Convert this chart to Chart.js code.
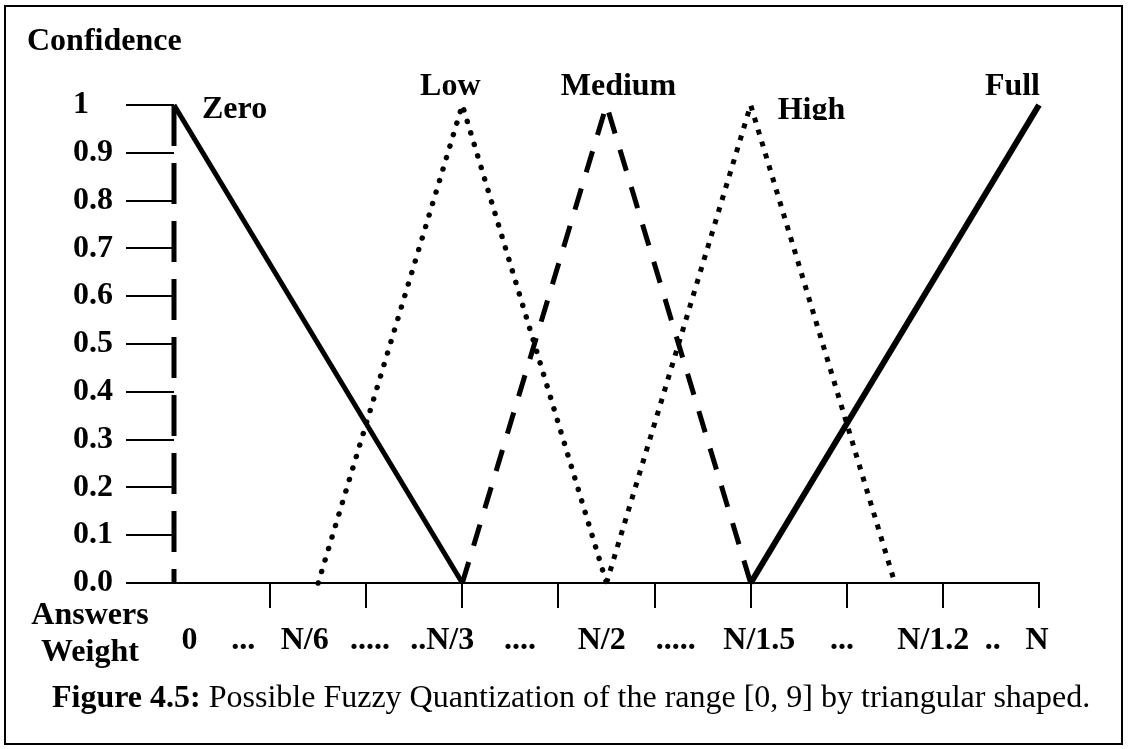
<!DOCTYPE html>
<html>
<head>
<meta charset="utf-8">
<title>Fuzzy Quantization</title>
<script src="https://cdn.jsdelivr.net/npm/chart.js@4.4.1/dist/chart.umd.min.js"></script>
<style>
  html, body { margin: 0; padding: 0; background: #fff; }
  #wrap { position: relative; width: 1128px; height: 749px; }
</style>
</head>
<body>
<div id="wrap"><canvas id="fuzzyChart"></canvas></div>
<script>
// axis ticks
const xTickValues = [0, 1, 2, 3, 4, 5, 6, 7, 8, 9];
const yTickValues = [0, 0.1, 0.2, 0.3, 0.4, 0.5, 0.6, 0.7, 0.8, 0.9, 1];
const yTickLabels = ['0.0', '0.1', '0.2', '0.3', '0.4', '0.5', '0.6', '0.7', '0.8', '0.9', '1'];

// the "Answers Weight" row under the axis (text + where it sits on the axis)
const xLabelText = ['0', '...', 'N/6', '.....', '..N/3', '....', 'N/2', '.....', 'N/1.5', '...', 'N/1.2', '..', 'N'];
const xLabelAt = [0.16, 0.72, 1.36, 2.04, 2.79, 3.6, 4.45, 5.22, 6.09, 6.95, 7.9, 8.52, 8.98];

// membership functions
const zeroX = [0, 3];
const zeroY = [1, 0];
const zeroEdgeX = [0, 0];
const zeroEdgeY = [1, 0];
const lowX = [1.5, 3, 4.5];
const lowY = [0, 1, 0];
const mediumX = [3, 4.5, 6];
const mediumY = [0, 1, 0];
const highX = [4.5, 6, 7.5];
const highY = [0, 1, 0];
const fullX = [6, 9];
const fullY = [0, 1];

const SERIF = "'Liberation Serif', 'Times New Roman', Times, serif";
const FS = 32;
const BOLD = 'bold ' + FS + 'px ' + SERIF;

function pts(xs, ys) {
    return xs.map((x, i) => ({ x: x, y: ys[i] }));
}

function lineSet(label, data, width, dash, cap) {
    return {
        label: label,
        data: data,
        showLine: true,
        borderColor: '#000',
        backgroundColor: '#000',
        borderWidth: width,
        borderDash: dash,
        borderCapStyle: cap || 'butt',
        borderJoinStyle: 'miter',
        pointRadius: 0,
        pointHoverRadius: 0,
        fill: false,
        clip: false
    };
}

// names, clear text on top of the chart, caption and frame
const figureText = {
    id: 'figureText',
    afterDraw(chart) {
        const ctx = chart.ctx;
        const xs = chart.scales.x;
        const ys = chart.scales.y;
        ctx.save();
        ctx.fillStyle = '#000';
        ctx.font = BOLD;
        ctx.textAlign = 'left';
        ctx.textBaseline = 'alphabetic';
        ctx.fillText('Confidence', 27, 50);

        ctx.textAlign = 'center';
        ctx.textBaseline = 'middle';
        ctx.fillText('Answers', 90, 616);
        ctx.fillText('Weight', 90, 653);

        // set names near the peaks
        const top = ys.getPixelForValue(1);
        const names = [
            { t: 'Zero', v: 0, dx: 28, dy: 13, align: 'left' },
            { t: 'Low', v: 3, dx: -12, dy: -10, align: 'center' },
            { t: 'Medium', v: 4.5, dx: 12, dy: -10, align: 'center' },
            { t: 'High', v: 6, dx: 27, dy: 14, align: 'left', cut: true },
            { t: 'Full', v: 9, dx: 1, dy: -10, align: 'right' }
        ];
        ctx.textBaseline = 'alphabetic';
        names.forEach(n => {
            const px = xs.getPixelForValue(n.v) + n.dx;
            const py = top + n.dy;
            ctx.save();
            if (n.cut) {
                ctx.beginPath();
                ctx.rect(px - 5, py - 40, 120, 41);
                ctx.clip();
            }
            ctx.textAlign = n.align;
            ctx.fillText(n.t, px, py);
            ctx.restore();
        });

        // caption
        ctx.textAlign = 'left';
        ctx.font = BOLD;
        const head = 'Figure 4.5:';
        ctx.fillText(head, 52, 707);
        const w = ctx.measureText(head).width;
        ctx.font = FS + 'px ' + SERIF;
        ctx.fillText(' Possible Fuzzy Quantization of the range [0, 9] by triangular shaped.', 52 + w, 707);

        // frame
        ctx.lineWidth = 2;
        ctx.strokeStyle = '#000';
        ctx.strokeRect(5, 6, 1117, 738);
        ctx.restore();
    }
};

const ctx = document.getElementById('fuzzyChart').getContext('2d');
new Chart(ctx, {
    type: 'scatter',
    data: {
        datasets: [
            lineSet('Zero edge', pts(zeroEdgeX, zeroEdgeY), 5, [41, 17]),
            lineSet('Zero', pts(zeroX, zeroY), 5, []),
            lineSet('Low', pts(lowX, lowY), 5.5, [0.01, 12], 'round'),
            lineSet('Medium', pts(mediumX, mediumY), 5, [22, 17]),
            lineSet('High', pts(highX, highY), 5, [5, 7.5]),
            lineSet('Full', pts(fullX, fullY), 6, [])
        ]
    },
    options: {
        responsive: true,
        maintainAspectRatio: false,
        animation: false,
        layout: { padding: { left: 73, right: 89, top: 105, bottom: 40 } },
        plugins: {
            legend: { display: false },
            tooltip: { enabled: false }
        },
        scales: {
            x: {
                type: 'linear',
                position: 'bottom',
                weight: 0,
                min: 0,
                max: 9,
                afterBuildTicks: s => { s.ticks = xTickValues.map(v => ({ value: v })); },
                afterFit: s => { s.height = 25; },
                border: { display: true, color: '#000', width: 2 },
                grid: {
                    drawOnChartArea: false,
                    tickLength: 25,
                    lineWidth: 2,
                    color: c => c.index === 0 ? 'rgba(0,0,0,0)' : '#000'
                },
                ticks: { display: false }
            },
            xl: {
                axis: 'x',
                type: 'linear',
                position: 'bottom',
                weight: 1,
                min: 0,
                max: 9,
                afterBuildTicks: s => { s.ticks = xLabelAt.map(v => ({ value: v })); },
                afterFit: s => { s.height = 101; },
                border: { display: false },
                grid: { display: false, drawTicks: false },
                ticks: {
                    autoSkip: false,
                    maxRotation: 0,
                    padding: 14,
                    color: '#000',
                    font: { family: SERIF, size: FS, weight: 'bold' },
                    callback: (v, i) => xLabelText[i]
                }
            },
            y: {
                type: 'linear',
                min: 0,
                max: 1,
                afterBuildTicks: s => { s.ticks = yTickValues.map(v => ({ value: v })); },
                afterFit: s => { s.width = 101; },
                border: { display: false },
                grid: { drawOnChartArea: false, tickLength: 48, lineWidth: 2, color: '#000' },
                ticks: {
                    crossAlign: 'far',
                    color: '#000',
                    font: { family: SERIF, size: FS, weight: 'bold' },
                    callback: (v, i) => yTickLabels[i]
                }
            }
        }
    },
    plugins: [figureText]
});
</script>
</body>
</html>
